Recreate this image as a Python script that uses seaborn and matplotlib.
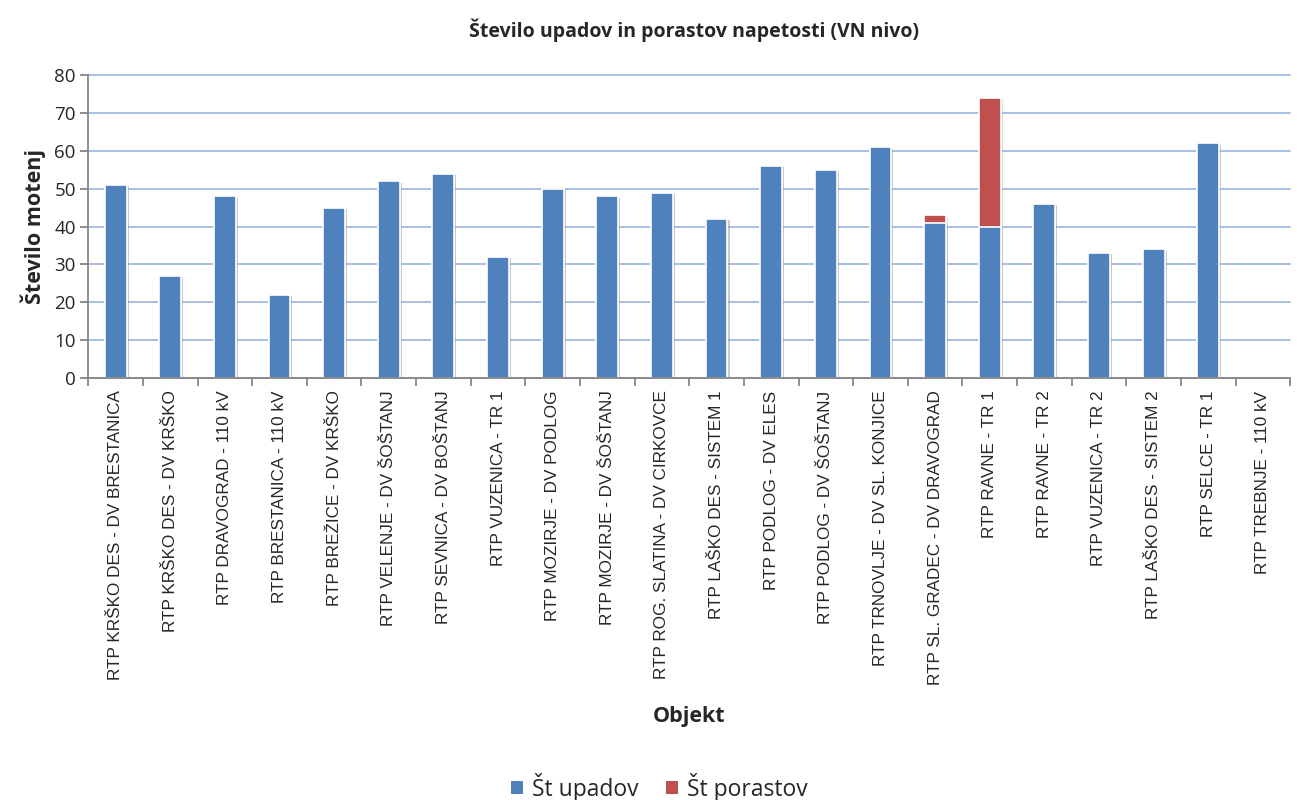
import numpy as np
import matplotlib
matplotlib.use('Agg')
import matplotlib.pyplot as plt
import matplotlib.patheffects as pe
from matplotlib.patches import Patch
import seaborn as sns
import pandas as pd

# data
objekti = ['RTP KRŠKO DES - DV BRESTANICA', 'RTP KRŠKO DES - DV KRŠKO', 'RTP DRAVOGRAD - 110 kV',
           'RTP BRESTANICA - 110 kV', 'RTP BREŽICE - DV KRŠKO', 'RTP VELENJE - DV ŠOŠTANJ',
           'RTP SEVNICA - DV BOŠTANJ', 'RTP VUZENICA - TR 1', 'RTP MOZIRJE - DV PODLOG',
           'RTP MOZIRJE - DV ŠOŠTANJ', 'RTP ROG. SLATINA - DV CIRKOVCE', 'RTP LAŠKO DES - SISTEM 1',
           'RTP PODLOG - DV ELES', 'RTP PODLOG - DV ŠOŠTANJ', 'RTP TRNOVLJE - DV SL. KONJICE',
           'RTP SL. GRADEC - DV DRAVOGRAD', 'RTP RAVNE - TR 1', 'RTP RAVNE - TR 2',
           'RTP VUZENICA - TR 2', 'RTP LAŠKO DES - SISTEM 2', 'RTP SELCE - TR 1', 'RTP TREBNJE - 110 kV']
upadi = [51, 27, 48, 22, 45, 52, 54, 32, 50, 48, 49, 42, 56, 55, 61, 41, 40, 46, 33, 34, 62, 0]
porasti = [0, 0, 0, 0, 0, 0, 0, 0, 0, 0, 0, 0, 0, 0, 0, 2, 34, 0, 0, 0, 0, 0]
y_ticks = list(range(0, 81, 10))

df = pd.DataFrame({'Objekt': objekti, 'upadi': upadi, 'porasti': porasti})
df['skupaj'] = df['upadi'] + df['porasti']

blue = '#4F81BD'
red = '#C0504D'
grey = '#868686'

sns.set_style('white')
plt.rcParams['font.family'] = ['Liberation Sans', 'DejaVu Sans']
bold_font = ['Open Sans', 'DejaVu Sans']

fig = plt.figure(figsize=(12.98, 8), dpi=100)
ax = fig.add_axes([0.068, 0.5275, 0.926, 0.3785])

shadow = [pe.SimplePatchShadow(offset=(1.5, -1.0), shadow_rgbFace='#999999', alpha=0.3), pe.Normal()]

sns.barplot(data=df, x='Objekt', y='skupaj', color=red, saturation=1, width=0.4,
            edgecolor='white', linewidth=1.2, ax=ax, zorder=3)
sns.barplot(data=df, x='Objekt', y='upadi', color=blue, saturation=1, width=0.4,
            edgecolor='white', linewidth=1.2, ax=ax, zorder=4)
for p in ax.patches:
    if p.get_height() > 0:
        p.set_path_effects(shadow)
    else:
        p.set_visible(False)

ax.set_ylim(0, 80)
ax.set_xlim(-0.5, len(objekti) - 0.5)
ax.set_yticks(y_ticks, labels=[str(v) for v in y_ticks], fontsize=13.5, family=bold_font)
ax.yaxis.grid(True, color='#A7BEE4', linewidth=1.4)
for gl in ax.get_ygridlines():
    gl.set_clip_on(False)
ax.set_axisbelow(True)
for s in ['top', 'right']:
    ax.spines[s].set_visible(False)
for s in ['left', 'bottom']:
    ax.spines[s].set_color(grey)
    ax.spines[s].set_linewidth(1.3)
    ax.spines[s].set_zorder(5)

ax.set_xticks(range(len(objekti)))
ax.set_xticklabels(objekti, rotation=90, fontsize=12.3)
ax.set_xticks(np.arange(-0.5, len(objekti), 1), minor=True)
ax.tick_params(axis='x', which='major', bottom=False, length=0, pad=9)
ax.tick_params(axis='x', which='minor', bottom=True, length=6, width=1.3, color=grey, direction='out')
ax.tick_params(axis='y', left=True, length=6, width=1.3, color=grey, direction='out', pad=3)

ax.set_xlabel('Objekt', fontsize=15.5, fontweight='bold', family=bold_font, labelpad=15)
ax.set_ylabel('Število motenj', fontsize=15.5, fontweight='bold', family=bold_font, labelpad=6)
fig.text(0.535, 0.962, 'Število upadov in porastov napetosti (VN nivo)', ha='center', va='center',
         fontsize=14, fontweight='bold', family=bold_font)

handles = [Patch(facecolor=blue, edgecolor='none', label='Št upadov'),
           Patch(facecolor=red, edgecolor='none', label='Št porastov')]
fig.legend(handles=handles, loc='center', bbox_to_anchor=(0.508, 0.016), ncol=2, frameon=False,
           handlelength=0.5, handleheight=0.5, handletextpad=0.4, columnspacing=1.2,
           prop={'family': bold_font, 'size': 16.5})

fig.savefig('out.png', dpi=100)
